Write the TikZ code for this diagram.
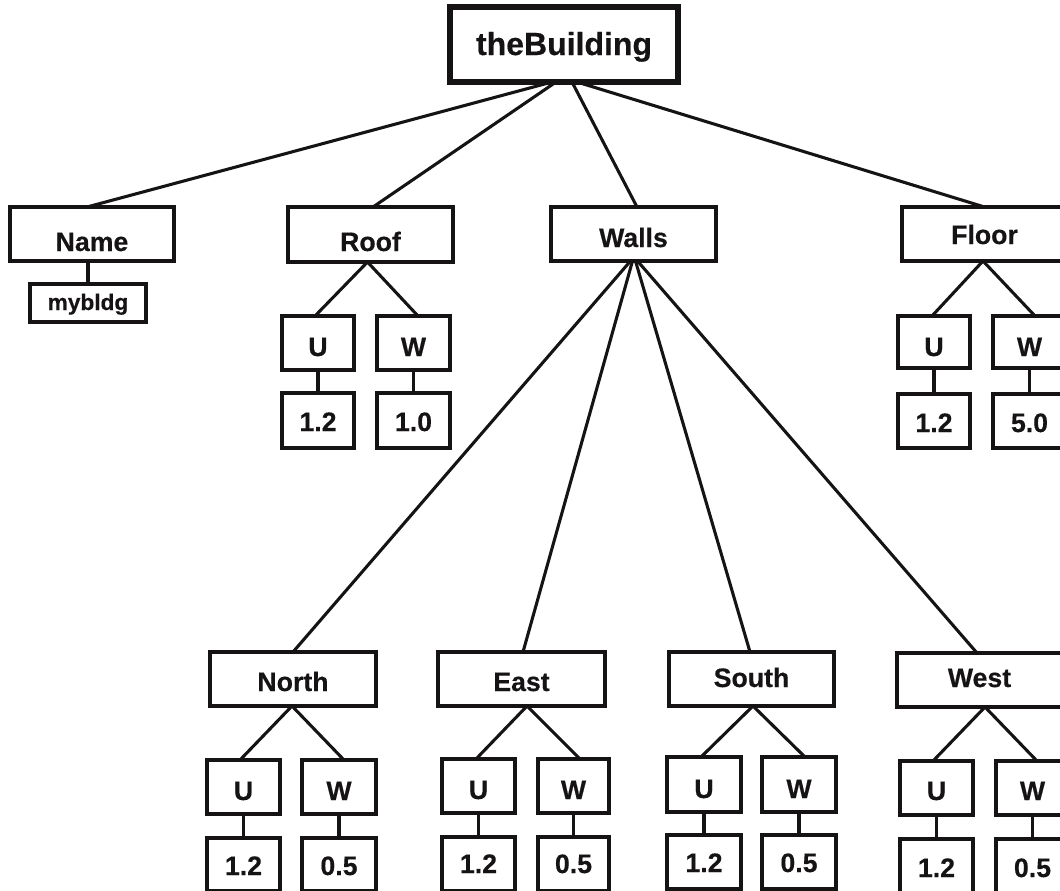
\documentclass[tikz,border=0pt]{standalone}
\usepackage{fontspec}
\setmainfont{Liberation Sans}[BoldFeatures={FakeBold=0.4}]
\usetikzlibrary{calc}
\definecolor{ink}{RGB}{22,19,20}
\tikzset{
  box/.style={draw=ink, line width=2.6pt, fill=white, inner sep=0pt, outer sep=0pt},
  rootbox/.style={box, line width=4pt},
  lbl/.style={anchor=base, inner sep=0pt, text=ink, font=\fontsize{20}{24}\selectfont\bfseries},
  rootlbl/.style={lbl, font=\fontsize{24}{28}\selectfont\bfseries},
  smalllbl/.style={lbl, font=\fontsize{17}{20}\selectfont\bfseries},
  link/.style={draw=ink, line width=2.3pt},
}
% \bx{name}{left}{top}{right}{bottom}{text}{baseline}{box style}{label style}
\newcommand\bx[9]{%
  \node[#8, minimum width={(#4-#2)*0.75pt}, minimum height={(#5-#3)*0.75pt}]
    (#1) at ({(#2+#4)/2},{(#3+#5)/2}) {};
  \node[#9] (#1-t) at ({(#2+#4)/2},#7) {#6};
}
\begin{document}
\begin{tikzpicture}[x=0.75pt, y=-0.75pt]
\useasboundingbox (0,0) rectangle (1060,890);
\fill[white] (0,0) rectangle (1060,890);
\clip (0,0) rectangle (1060,890);

% root
\bx{tb}{450}{7}{678}{82}{theBuilding}{55}{rootbox}{rootlbl}

% first level
\bx{name}{10}{207}{174}{261}{Name}{251}{box}{lbl}
\bx{myb}{30}{284}{146}{322}{mybldg}{310}{box}{smalllbl}
\bx{roof}{288}{207}{453}{262}{Roof}{251}{box}{lbl}
\bx{walls}{551}{207}{716}{261}{Walls}{247}{box}{lbl}
\bx{floor}{902}{207}{1067}{261}{Floor}{244}{box}{lbl}

% roof values
\bx{rU}{282}{316}{354}{370}{U}{356}{box}{lbl}
\bx{rW}{377}{316}{450}{370}{W}{356}{box}{lbl}
\bx{rUv}{282}{393}{354}{448}{1.2}{431}{box}{lbl}
\bx{rWv}{377}{393}{450}{448}{1.0}{431}{box}{lbl}

% floor values
\bx{fU}{898}{316}{970}{368}{U}{356}{box}{lbl}
\bx{fW}{993}{316}{1066}{368}{W}{356}{box}{lbl}
\bx{fUv}{898}{394}{970}{448}{1.2}{432}{box}{lbl}
\bx{fWv}{993}{394}{1066}{448}{5.0}{432}{box}{lbl}

% walls
\bx{north}{210}{652}{376}{706}{North}{691}{box}{lbl}
\bx{east}{438}{652}{605}{706}{East}{691}{box}{lbl}
\bx{south}{669}{652}{834}{706}{South}{687}{box}{lbl}
\bx{west}{897}{653}{1062}{707}{West}{687}{box}{lbl}

\bx{nU}{207}{760}{280}{814}{U}{800}{box}{lbl}
\bx{nW}{302}{760}{376}{814}{W}{800}{box}{lbl}
\bx{nUv}{207}{838}{280}{891}{1.2}{875}{box}{lbl}
\bx{nWv}{302}{838}{376}{891}{0.5}{875}{box}{lbl}

\bx{eU}{442}{759}{515}{813}{U}{799}{box}{lbl}
\bx{eW}{538}{759}{609}{813}{W}{799}{box}{lbl}
\bx{eUv}{442}{837}{515}{891}{1.2}{873}{box}{lbl}
\bx{eWv}{538}{837}{609}{891}{0.5}{873}{box}{lbl}

\bx{sU}{667}{757}{741}{812}{U}{798}{box}{lbl}
\bx{sW}{762}{757}{836}{812}{W}{798}{box}{lbl}
\bx{sUv}{667}{835}{741}{889}{1.2}{872}{box}{lbl}
\bx{sWv}{762}{835}{836}{889}{0.5}{872}{box}{lbl}

\bx{wU}{900}{761}{973}{815}{U}{800}{box}{lbl}
\bx{wW}{996}{761}{1069}{815}{W}{800}{box}{lbl}
\bx{wUv}{900}{839}{973}{893}{1.2}{877}{box}{lbl}
\bx{wWv}{996}{839}{1069}{893}{0.5}{877}{box}{lbl}

% root links
\draw[link] ($(tb.south)+(-12,0)$) -- ($(name.north)+(-5,0)$);
\draw[link] ($(tb.south)+(-8,0)$) -- ($(roof.north)+(2.5,0)$);
\draw[link] ($(tb.south)+(8,0)$) -- ($(walls.north)+(3.5,0)$);
\draw[link] ($(tb.south)+(13,0)$) -- (floor.north);

% name value
\draw[link] (myb.north |- name.south) -- (myb.north);

% walls fan
\draw[link] ($(walls.south)+(-3,0)$) -- (north.north);
\draw[link] ($(walls.south)+(-1,0)$) -- ($(east.north)+(1.5,0)$);
\draw[link] ($(walls.south)+(2,0)$) -- ($(south.north)+(-1.5,0)$);
\draw[link] ($(walls.south)+(4,0)$) -- ($(west.north)+(-2.5,0)$);

% forks to U and W
\draw[link] ($(rU.north)+(-3,0)$) -- ($(roof.south)+(-3,0)$) -- ($(rW.north)+(4.5,0)$);
\draw[link] ($(fU.north)+(-2,0)$) -- ($(floor.south)+(-1.5,0)$) -- ($(fW.north)+(5.5,0)$);
\draw[link] ($(nU.north)+(-3.5,0)$) -- ($(north.south)+(-1,0)$) -- ($(nW.north)+(5,0)$);
\draw[link] ($(eU.north)+(-2.5,0)$) -- ($(east.south)+(5.5,0)$) -- ($(eW.north)+(6.5,0)$);
\draw[link] ($(sU.north)+(-3,0)$) -- ($(south.south)+(1.5,0)$) -- ($(sW.north)+(6,0)$);
\draw[link] ($(wU.north)+(-3.5,0)$) -- ($(west.south)+(5.5,0)$) -- ($(wW.north)+(4.5,0)$);

% U and W to their values
\foreach \p in {r,f,n,e,s,w}{
  \draw[link] (\p U.south) -- (\p Uv.north);
  \draw[link] (\p W.south) -- (\p Wv.north);
}
\end{tikzpicture}
\end{document}
